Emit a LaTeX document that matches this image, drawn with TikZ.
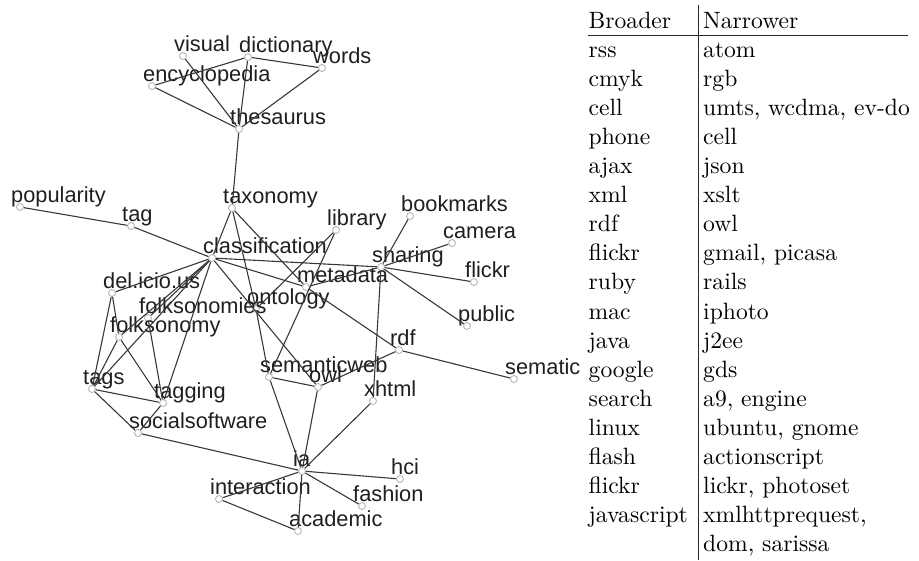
\documentclass[tikz,border=0pt]{standalone}
\usepackage{fontspec}
\newfontfamily\graphfont{Liberation Sans}
\newfontfamily\tabfont{lmroman10-regular}[Extension=.otf]
\newcommand\gn[4]{\node[dot] (#1) at (#2,#3) {};\node[lbl] (#1-l) at (#2-9,#3-5) {#4};}
\begin{document}
\begin{tikzpicture}[x=1pt,y=-1pt,
  dot/.style={circle,draw=black!28,fill=white,line width=0.9pt,inner sep=0pt,minimum size=7pt},
  lbl/.style={anchor=base west,inner sep=0pt,font=\graphfont\fontsize{21.8}{24}\selectfont,text=black!88},
  edge/.style={draw=black!78,line width=1.1pt},
  cellb/.style={anchor=base west,inner sep=0pt,font=\tabfont\fontsize{23.6}{28}\selectfont},
  rule/.style={draw=black!85,line width=1pt}]
\useasboundingbox (0,0) rectangle (919,560);
% graph nodes
\gn{vis}{183}{56}{visual}
\gn{dict}{248}{57}{dictionary}
\gn{words}{322}{68}{words}
\gn{enc}{152}{86}{encyclopedia}
\gn{thes}{239}{129}{thesaurus}
\gn{pop}{20}{207}{popularity}
\gn{tag}{131}{226}{tag}
\gn{tax}{232}{208}{taxonomy}
\gn{lib}{336}{230}{library}
\gn{book}{410}{216}{bookmarks}
\gn{cam}{452}{243}{camera}
\gn{class}{212}{258}{classification}
\gn{share}{381}{267}{sharing}
\gn{flickr}{474}{282}{flickr}
\gn{meta}{306}{287}{metadata}
\gn{del}{112}{293}{del.icio.us}
\gn{onto}{256}{309}{ontology}
\gn{fsies}{148}{318}{folksonomies}
\gn{public}{467}{326}{public}
\gn{fsy}{119}{337}{folksonomy}
\gn{rdf}{399}{350}{rdf}
\gn{sem}{514}{379}{sematic}
\gn{sweb}{269}{377}{semanticweb}
\gn{owl}{318}{387}{owl}
\gn{tags}{92}{389}{tags}
\gn{xhtml}{373}{401}{xhtml}
\gn{tagging}{163}{403}{tagging}
\gn{soc}{138}{433}{socialsoftware}
\gn{ia}{302}{471}{ia}
\gn{hci}{400}{479}{hci}
\gn{inter}{219}{499}{interaction}
\gn{fash}{362}{506}{fashion}
\gn{acad}{298}{531}{academic}
% edges
\foreach \a/\b in {enc/dict,enc/thes,vis/thes,dict/thes,dict/words,words/thes,thes/tax,
  pop/tag,tag/class,tax/class,tax/onto,onto/sweb,tax/meta,
  class/share,class/meta,class/owl,class/del,class/fsies,class/tags,class/tagging,class/fsy,
  lib/onto,lib/sweb,
  share/book,share/cam,share/flickr,share/public,share/xhtml,share/meta,
  meta/rdf,rdf/sem,rdf/owl,
  sweb/owl,sweb/ia,owl/ia,xhtml/ia,
  ia/soc,ia/hci,ia/fash,ia/acad,ia/inter,inter/acad,
  del/tags,del/fsy,fsy/tags,fsy/tagging,fsies/tagging,
  tags/tagging,tags/soc,tagging/soc}
  \draw[edge] (\a) -- (\b);
% table
\coordinate (vt) at (698,5);
\coordinate (vb) at (698,560);
\coordinate (hl) at (588,35);
\coordinate (hr) at (908,35);
\draw[rule] (vt) -- (vb);
\draw[rule] (hl) -- (hr);
\node[cellb] (h1) at (588.5,28) {Broader};
\node[cellb] (h2) at (703,28) {Narrower};
\node[cellb] (b1) at (588.5,57.1) {rss};        \node[cellb] (n1) at (703,57.1) {atom};
\node[cellb] (b2) at (588.5,86.2) {cmyk};       \node[cellb] (n2) at (703,86.2) {rgb};
\node[cellb] (b3) at (588.5,115.3) {cell};      \node[cellb] (n3) at (703,115.3) {umts, wcdma, ev-do};
\node[cellb] (b4) at (588.5,144.4) {phone};     \node[cellb] (n4) at (703,144.4) {cell};
\node[cellb] (b5) at (588.5,173.5) {ajax};      \node[cellb] (n5) at (703,173.5) {json};
\node[cellb] (b6) at (588.5,202.6) {xml};       \node[cellb] (n6) at (703,202.6) {xslt};
\node[cellb] (b7) at (588.5,231.7) {rdf};       \node[cellb] (n7) at (703,231.7) {owl};
\node[cellb] (b8) at (588.5,260.8) {flickr};    \node[cellb] (n8) at (703,260.8) {gmail, picasa};
\node[cellb] (b9) at (588.5,289.9) {ruby};      \node[cellb] (n9) at (703,289.9) {rails};
\node[cellb] (b10) at (588.5,319) {mac};        \node[cellb] (n10) at (703,319) {iphoto};
\node[cellb] (b11) at (588.5,348.1) {java};     \node[cellb] (n11) at (703,348.1) {j2ee};
\node[cellb] (b12) at (588.5,377.2) {google};   \node[cellb] (n12) at (703,377.2) {gds};
\node[cellb] (b13) at (588.5,406.3) {search};   \node[cellb] (n13) at (703,406.3) {a9, engine};
\node[cellb] (b14) at (588.5,435.4) {linux};    \node[cellb] (n14) at (703,435.4) {ubuntu, gnome};
\node[cellb] (b15) at (588.5,464.5) {flash};    \node[cellb] (n15) at (703,464.5) {actionscript};
\node[cellb] (b16) at (588.5,493.6) {flickr};   \node[cellb] (n16) at (703,493.6) {lickr, photoset};
\node[cellb] (b17) at (588.5,522.7) {javascript}; \node[cellb] (n17) at (703,522.7) {xmlhttprequest,};
\node[cellb] (n18) at (703,551.8) {dom, sarissa};
\end{tikzpicture}
\end{document}
